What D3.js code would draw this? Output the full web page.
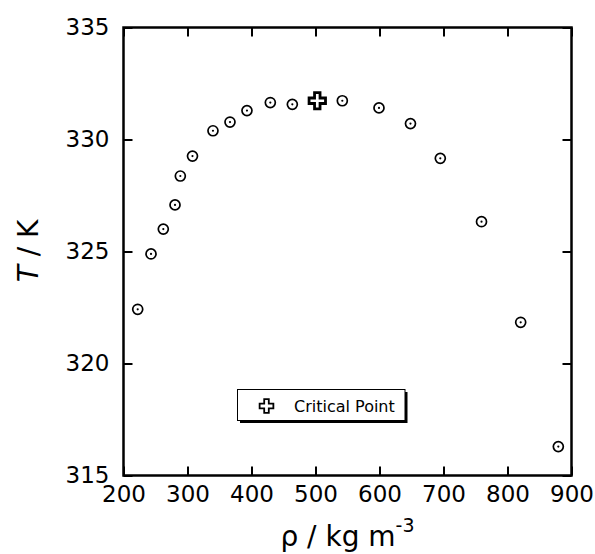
<!DOCTYPE html>
<html>
<head>
<meta charset="utf-8">
<script src="https://cdn.jsdelivr.net/npm/d3@7"></script>
<style>
  html, body { margin: 0; padding: 0; background: #fff; }
  svg { display: block; }
</style>
</head>
<body>
<svg id="chart" width="595" height="554"></svg>
<script>
// Data
const rho = [222.2, 243.0, 262.2, 280.5, 288.8, 307.8, 339.8, 366.4, 392.9, 429.4, 463.8, 541.9, 599.2, 648.4, 695.0, 759.4, 820.6, 879.4];
const temp = [322.42, 324.89, 326.00, 327.08, 328.37, 329.26, 330.39, 330.78, 331.29, 331.65, 331.57, 331.73, 331.41, 330.71, 329.16, 326.33, 321.84, 316.29];
const critRho = [502.8];
const critT = [331.73];
const xTicks = [200, 300, 400, 500, 600, 700, 800, 900];
const yTicks = [315, 320, 325, 330, 335];
const legendLabel = "Critical Point";

const svg = d3.select("#chart");
const L = 123.5, R = 571.5, T = 27.5, B = 475.5;
const x = d3.scaleLinear().domain([200, 900]).range([L, R]);
const y = d3.scaleLinear().domain([315, 335]).range([B, T]);

const font = "'DejaVu Sans', sans-serif";

// frame
svg.append("rect").attr("x", L).attr("y", T).attr("width", R - L).attr("height", B - T)
  .attr("fill", "none").attr("stroke", "#000").attr("stroke-width", 2.5);

function styleAxis(g, labels) {
  g.select(".domain").remove();
  g.selectAll(".tick line").attr("stroke", "#000").attr("stroke-width", 2);
  g.selectAll(".tick text").attr("fill", "#000").style("font-family", font).style("font-size", "23px");
  if (!labels) g.selectAll(".tick text").remove();
}

svg.append("g").attr("transform", `translate(0,${B})`)
  .call(d3.axisBottom(x).tickValues(xTicks).tickSize(-9).tickPadding(10).tickFormat(d3.format("d")))
  .call(g => styleAxis(g, true));
svg.append("g").attr("transform", `translate(0,${T})`)
  .call(d3.axisTop(x).tickValues(xTicks).tickSize(-9))
  .call(g => styleAxis(g, false));
svg.append("g").attr("transform", `translate(${L},0)`)
  .call(d3.axisLeft(y).tickValues(yTicks).tickSize(-9).tickPadding(14).tickFormat(d3.format("d")))
  .call(g => styleAxis(g, true));
svg.append("g").attr("transform", `translate(${R},0)`)
  .call(d3.axisRight(y).tickValues(yTicks).tickSize(-9))
  .call(g => styleAxis(g, false));

// data points
const pts = d3.zip(rho, temp);
const pg = svg.append("g");
pg.selectAll("circle.o").data(pts).join("circle").attr("class", "o")
  .attr("cx", d => x(d[0])).attr("cy", d => y(d[1])).attr("r", 5)
  .attr("fill", "#fff").attr("stroke", "#000").attr("stroke-width", 1.7);
pg.selectAll("circle.d").data(pts).join("circle").attr("class", "d")
  .attr("cx", d => x(d[0])).attr("cy", d => y(d[1])).attr("r", 1.1)
  .attr("fill", "#000");

// critical point
const crit = d3.zip(critRho, critT);
svg.append("g").selectAll("path").data(crit).join("path")
  .attr("transform", d => `translate(${x(d[0])},${y(d[1])})`)
  .attr("d", d3.symbol(d3.symbolCross).size(150))
  .attr("fill", "#fff").attr("stroke", "#000").attr("stroke-width", 2.8);

// legend
const lg = svg.append("g");
lg.append("rect").attr("x", 240).attr("y", 392).attr("width", 167.5).attr("height", 31).attr("fill", "#000");
lg.append("rect").attr("x", 237.5).attr("y", 389.5).attr("width", 167.5).attr("height", 31)
  .attr("fill", "#fff").attr("stroke", "#000").attr("stroke-width", 1);
lg.append("path").attr("transform", "translate(266.5,406)")
  .attr("d", d3.symbol(d3.symbolCross).size(105))
  .attr("fill", "#fff").attr("stroke", "#000").attr("stroke-width", 1.8);
lg.append("text").attr("x", 294).attr("y", 411.5).text(legendLabel)
  .style("font-family", font).style("font-size", "16px").attr("fill", "#000");

// axis titles
const xt = svg.append("text").attr("x", 347.5).attr("y", 546).attr("text-anchor", "middle")
  .style("font-family", font).style("font-size", "28px").attr("fill", "#000");
xt.append("tspan").text("ρ / kg m");
xt.append("tspan").attr("dy", -14).style("font-size", "19px").text("-3");

const yt = svg.append("text").attr("transform", "translate(38,251) rotate(-90)").attr("text-anchor", "middle")
  .style("font-family", font).style("font-size", "28px").attr("fill", "#000");
yt.append("tspan").style("font-style", "italic").text("T");
yt.append("tspan").text(" / K");
</script>
</body>
</html>
